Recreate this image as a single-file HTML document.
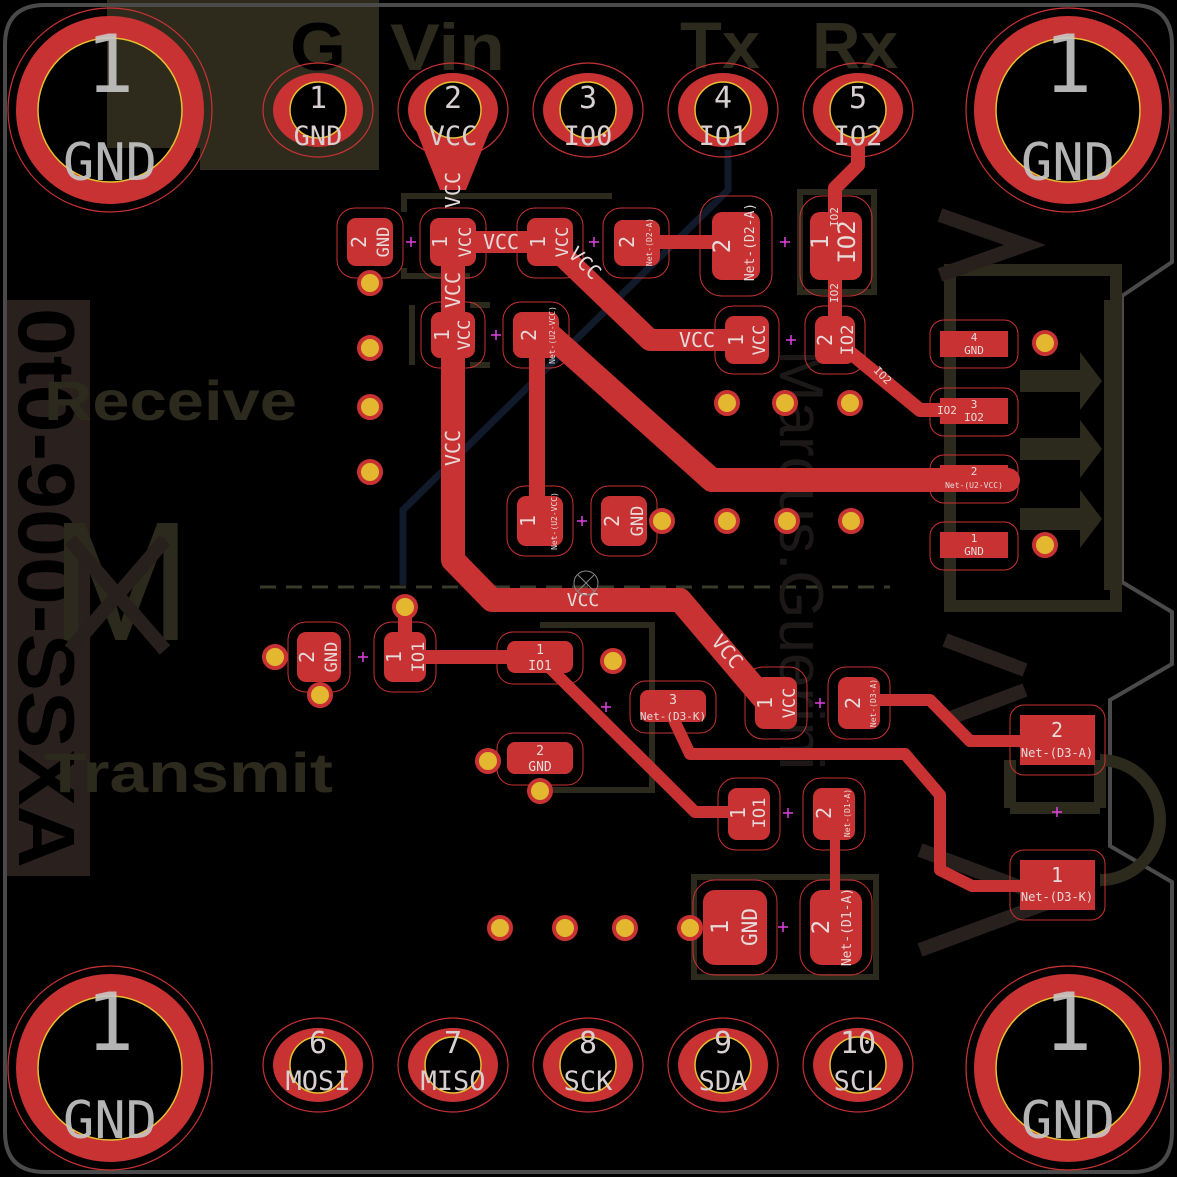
<!DOCTYPE html>
<html><head><meta charset="utf-8"><style>
html,body{margin:0;padding:0;background:#000;}
svg{display:block;font-family:"DejaVu Sans Mono","Liberation Mono",monospace;}
.pl{fill:#e6dada;}
.ls{font-family:"Liberation Sans",sans-serif;}
</style></head><body>
<svg width="1177" height="1177" viewBox="0 0 1177 1177" xmlns="http://www.w3.org/2000/svg">
<rect width="1177" height="1177" fill="#000"/>
<polygon points="107,0 379,0 379,170 200,170 200,148 107,148" fill="#2e2b1d"/>
<rect x="6" y="300" width="84" height="576" fill="#2a211e"/>
<text class="ls" transform="translate(19,588) rotate(90)" text-anchor="middle" font-weight="bold" font-size="80" fill="#000" textLength="560" lengthAdjust="spacingAndGlyphs">0t0-900-SSXA</text>
<path d="M45,5 H1132 Q1172,5 1172,45 V262 L1122,296 V582 L1172,612 V664 L1110,700 V846 L1172,882 V1132 Q1172,1172 1132,1172 H45 Q5,1172 5,1132 V45 Q5,5 45,5 Z" fill="none" stroke="#4a4a4a" stroke-width="4"/>
<g fill="none" stroke="#2c2a1c" stroke-width="12">
<rect x="950" y="270" width="166" height="336"/>
<path d="M1110,300 V590"/>
<path d="M1010,808 H1100 M1010,808 V760 M1100,808 V760 M1100,760 A60,60 0 0 1 1100,880" />
</g>
<g fill="#2c2a1c">
<polygon points="1020,370 1080,370 1080,352 1102,381 1080,410 1080,392 1020,392"/>
<polygon points="1020,438 1080,438 1080,420 1102,449 1080,478 1080,460 1020,460"/>
<polygon points="1020,508 1080,508 1080,490 1102,519 1080,548 1080,530 1020,530"/>
</g>
<g fill="none" stroke="#2c2a1c" stroke-width="6">
<path d="M404,212 V196 H612 M404,268 V276 H470 M412,305 V365 M470,305 H490 M470,365 H490"/>
<rect x="800" y="192" width="74" height="100"/>
<path d="M540,625 H652 V790 H540"/>
<rect x="694" y="877" width="182" height="100"/>
</g>
<path d="M260,587 H890" stroke="#3a3a2a" stroke-width="3" stroke-dasharray="16,10"/>
<g font-weight="bold">
<text class="ls" x="290" y="70" font-size="68" fill="#000" textLength="56" lengthAdjust="spacingAndGlyphs">G</text>
<text class="ls" x="390" y="70" font-size="66" fill="#2c2a1c" textLength="115" lengthAdjust="spacingAndGlyphs">Vin</text>
<text class="ls" x="680" y="68" font-size="66" fill="#2c2a1c" textLength="80" lengthAdjust="spacingAndGlyphs">Tx</text>
<text class="ls" x="812" y="68" font-size="66" fill="#2c2a1c" textLength="86" lengthAdjust="spacingAndGlyphs">Rx</text>
<text class="ls" x="44" y="420" font-size="56" fill="#2c2a1c" textLength="253" lengthAdjust="spacingAndGlyphs">Receive</text>
<text class="ls" x="44" y="792" font-size="56" fill="#2c2a1c" textLength="289" lengthAdjust="spacingAndGlyphs">Transmit</text>
</g>
<text class="ls" x="50" y="640" font-size="170" fill="#2c2a1c">M</text>
<g stroke="#28201c" stroke-width="14" fill="none">
<path d="M70,540 L165,650 M165,540 L70,650"/>
<path d="M940,215 L1025,245 L940,275"/>
<path d="M945,640 L1025,670 M945,720 L1025,690"/>
<path d="M920,850 L1055,900 L920,950"/>
</g>
<text class="ls" transform="translate(780,560) rotate(90)" font-size="62" fill="#1c1818" text-anchor="middle">Marcus.Guerini</text>
<path d="M728,150 V190 L403,510 V585" fill="none" stroke="#101a2a" stroke-width="7"/>
<g id="mh">
<circle cx="110" cy="110" r="102" fill="none" stroke="#c83232" stroke-width="1.2"/>
<circle cx="110" cy="110" r="83" fill="none" stroke="#c83232" stroke-width="22"/>
<circle cx="110" cy="110" r="72" fill="none" stroke="#e6c030" stroke-width="1.5"/>
</g>
<use href="#mh" x="958"/><use href="#mh" y="958"/><use href="#mh" x="958" y="958"/>
<g fill="#c8c8c8" fill-opacity="0.9" text-anchor="middle">
<text x="110" y="92" font-size="80">1</text><text x="110" y="180" font-size="52">GND</text>
<text x="1068" y="92" font-size="80">1</text><text x="1068" y="180" font-size="52">GND</text>
<text x="110" y="1050" font-size="80">1</text><text x="110" y="1138" font-size="52">GND</text>
<text x="1068" y="1050" font-size="80">1</text><text x="1068" y="1138" font-size="52">GND</text>
</g>
<g fill="none" stroke="#c83232" stroke-linejoin="round" stroke-linecap="round">
<path d="M453,240 V560 L492,600 H680 L765,700" stroke-width="24"/>
<path d="M453,242 H548 L650,340 H740" stroke-width="22"/>
<path d="M550,335 L712,480 H1008" stroke-width="24"/>
<path d="M537,335 V520" stroke-width="16"/>
<path d="M858,110 V165 L835,188 V340 L920,410 H960" stroke-width="14"/>
<path d="M637,242 H735" stroke-width="14"/>
<path d="M405,607 V657 H540" stroke-width="14"/>
<path d="M548,666 L695,812 H748" stroke-width="12"/>
<path d="M673,718 L690,754 H905 L940,795 V870 L972,886 H1057" stroke-width="12"/>
<path d="M870,700 H930 L970,741 H1057" stroke-width="12"/>
<path d="M835,813 V925" stroke-width="10"/>
</g>
<polygon points="408,110 498,110 466,190 440,190" fill="#c83232"/>
<g id="hp">
<ellipse cx="318" cy="110" rx="55" ry="47" fill="none" stroke="#c83232" stroke-width="1.2"/>
<ellipse cx="318" cy="110" rx="45" ry="37" fill="#c83232"/>
<circle cx="318" cy="110" r="28" fill="#000" stroke="#e6c030" stroke-width="1.5"/>
</g>
<use href="#hp" x="135"/><use href="#hp" x="270"/><use href="#hp" x="405"/><use href="#hp" x="540"/>
<use href="#hp" y="955"/><use href="#hp" x="135" y="955"/><use href="#hp" x="270" y="955"/><use href="#hp" x="405" y="955"/><use href="#hp" x="540" y="955"/>
<g fill="#d8d0d0" text-anchor="middle">
<g font-size="30">
<text x="318" y="108">1</text><text x="453" y="108">2</text><text x="588" y="108">3</text><text x="723" y="108">4</text><text x="858" y="108">5</text>
<text x="318" y="1053">6</text><text x="453" y="1053">7</text><text x="588" y="1053">8</text><text x="723" y="1053">9</text><text x="858" y="1053">10</text>
</g>
<g font-size="27">
<text x="318" y="145">GND</text><text x="453" y="145">VCC</text><text x="588" y="145">IO0</text><text x="723" y="145">IO1</text><text x="858" y="145">IO2</text>
<text x="318" y="1090">MOSI</text><text x="453" y="1090">MISO</text><text x="588" y="1090">SCK</text><text x="723" y="1090">SDA</text><text x="858" y="1090">SCL</text>
</g>
</g>
<g fill="#c83232">
<g stroke="#c83232" stroke-width="1" fill="none">
<rect x="337" y="208" width="66" height="70" rx="18"/><rect x="420" y="208" width="66" height="70" rx="18"/>
<rect x="517" y="208" width="66" height="70" rx="18"/><rect x="603" y="208" width="66" height="70" rx="18"/>
<rect x="700" y="196" width="72" height="100" rx="22"/><rect x="800" y="196" width="72" height="100" rx="22"/>
<rect x="421" y="302" width="64" height="66" rx="18"/><rect x="503" y="302" width="66" height="66" rx="18"/>
<rect x="715" y="306" width="64" height="68" rx="18"/><rect x="805" y="306" width="60" height="68" rx="18"/>
<rect x="507" y="486" width="66" height="70" rx="18"/><rect x="591" y="486" width="66" height="70" rx="18"/>
<rect x="288" y="622" width="62" height="70" rx="18"/><rect x="374" y="622" width="62" height="70" rx="18"/>
<rect x="745" y="667" width="62" height="72" rx="18"/><rect x="828" y="667" width="62" height="72" rx="18"/>
<rect x="718" y="778" width="62" height="72" rx="18"/><rect x="803" y="778" width="62" height="72" rx="18"/>
<rect x="693" y="880" width="84" height="95" rx="22"/><rect x="800" y="880" width="72" height="95" rx="22"/>
<rect x="497" y="632" width="86" height="52" rx="16"/><rect x="630" y="681" width="86" height="52" rx="16"/>
<rect x="497" y="733" width="86" height="52" rx="16"/>
<rect x="930" y="320" width="88" height="48" rx="14"/><rect x="930" y="388" width="88" height="48" rx="14"/>
<rect x="930" y="455" width="88" height="48" rx="14"/><rect x="930" y="522" width="88" height="48" rx="14"/>
<rect x="1010" y="705" width="95" height="70" rx="14"/><rect x="1010" y="850" width="95" height="70" rx="14"/>
</g>
<rect x="347" y="218" width="46" height="48" rx="9"/><rect x="430" y="218" width="46" height="48" rx="9"/>
<rect x="527" y="218" width="46" height="48" rx="9"/><rect x="614" y="220" width="46" height="46" rx="9"/>
<rect x="712" y="212" width="48" height="68" rx="10"/><rect x="810" y="212" width="52" height="68" rx="10"/>
<rect x="431" y="312" width="44" height="46" rx="9"/><rect x="513" y="312" width="46" height="46" rx="9"/>
<rect x="725" y="316" width="44" height="48" rx="9"/><rect x="815" y="316" width="40" height="48" rx="9"/>
<rect x="517" y="496" width="46" height="50" rx="9"/><rect x="601" y="496" width="46" height="50" rx="9"/>
<rect x="297" y="632" width="44" height="50" rx="9"/><rect x="384" y="632" width="42" height="50" rx="9"/>
<rect x="755" y="677" width="42" height="52" rx="9"/><rect x="838" y="677" width="42" height="52" rx="9"/>
<rect x="728" y="788" width="42" height="52" rx="9"/><rect x="813" y="788" width="42" height="52" rx="9"/>
<rect x="703" y="890" width="64" height="75" rx="12"/><rect x="810" y="890" width="52" height="75" rx="12"/>
<rect x="507" y="641" width="66" height="32" rx="8"/><rect x="640" y="690" width="66" height="32" rx="8"/>
<rect x="507" y="742" width="66" height="32" rx="8"/>
<rect x="940" y="331" width="68" height="26"/><rect x="940" y="398" width="68" height="26"/>
<rect x="940" y="465" width="68" height="26"/><rect x="940" y="532" width="68" height="26"/>
<rect x="1020" y="715" width="75" height="50"/><rect x="1020" y="860" width="75" height="50"/>
</g>
<g class="pl" text-anchor="middle">
<g font-size="20">
<text transform="translate(366,242) rotate(-90)">2</text><text transform="translate(447,242) rotate(-90)">1</text>
<text transform="translate(545,242) rotate(-90)">1</text><text transform="translate(634,242) rotate(-90)">2</text>
<text transform="translate(730,246) rotate(-90)" font-size="24">2</text><text transform="translate(828,242) rotate(-90)" font-size="24">1</text>
<text transform="translate(449,335) rotate(-90)">1</text><text transform="translate(536,335) rotate(-90)">2</text>
<text transform="translate(743,340) rotate(-90)">1</text><text transform="translate(832,340) rotate(-90)">2</text>
<text transform="translate(535,521) rotate(-90)">1</text><text transform="translate(619,521) rotate(-90)">2</text>
<text transform="translate(314,657) rotate(-90)">2</text><text transform="translate(401,657) rotate(-90)">1</text>
<text transform="translate(772,703) rotate(-90)">1</text><text transform="translate(860,703) rotate(-90)">2</text>
<text transform="translate(745,813) rotate(-90)">1</text><text transform="translate(831,813) rotate(-90)">2</text>
<text transform="translate(728,927) rotate(-90)" font-size="24">1</text><text transform="translate(829,927) rotate(-90)" font-size="24">2</text>
</g>
<g font-size="17">
<text transform="translate(389,242) rotate(-90)">GND</text><text transform="translate(471,242) rotate(-90)">VCC</text>
<text transform="translate(568,242) rotate(-90)">VCC</text>
<text transform="translate(470,335) rotate(-90)">VCC</text><text transform="translate(765,340) rotate(-90)">VCC</text>
<text transform="translate(853,340) rotate(-90)">IO2</text>
<text transform="translate(643,521) rotate(-90)">GND</text>
<text transform="translate(337,657) rotate(-90)">GND</text><text transform="translate(424,657) rotate(-90)">IO1</text>
<text transform="translate(795,703) rotate(-90)">VCC</text><text transform="translate(765,813) rotate(-90)">IO1</text>
<text transform="translate(757,927) rotate(-90)" font-size="21">GND</text>
<text transform="translate(855,242) rotate(-90)" font-size="24">IO2</text>
</g>
<g font-size="8">
<text transform="translate(652,242) rotate(-90)">Net-(D2-A)</text>
<text transform="translate(555,335) rotate(-90)">Net-(U2-VCC)</text>
<text transform="translate(557,521) rotate(-90)">Net-(U2-VCC)</text>
<text transform="translate(876,703) rotate(-90)">Net-(D3-A)</text>
<text transform="translate(850,813) rotate(-90)">Net-(D1-A)</text>
</g>
<text transform="translate(754,242) rotate(-90)" font-size="13">Net-(D2-A)</text>
<text transform="translate(851,927) rotate(-90)" font-size="13">Net-(D1-A)</text>
<g font-size="11"><text transform="translate(838,217) rotate(-90)">IO2</text><text transform="translate(838,293) rotate(-90)">IO2</text>
<text transform="translate(880,378) rotate(45)">IO2</text></g>
<g font-size="20">
<text transform="translate(460,190) rotate(-90)">VCC</text><text transform="translate(460,290) rotate(-90)">VCC</text>
<text transform="translate(460,448) rotate(-90)">VCC</text>
<text x="501" y="249">VCC</text><text x="697" y="347">VCC</text>
<text x="583" y="606" font-size="18">VCC</text>
<text transform="translate(580,268) rotate(45)">VCC</text><text transform="translate(722,656) rotate(50)">VCC</text>
</g>
<g font-size="13">
<text x="540" y="654">1</text><text x="540" y="670">IO1</text>
<text x="673" y="704">3</text><text x="673" y="720" font-size="11">Net-(D3-K)</text>
<text x="540" y="755">2</text><text x="540" y="771">GND</text>
<text x="974" y="341" font-size="11">4</text><text x="974" y="354" font-size="11">GND</text>
<text x="974" y="408" font-size="11">3</text><text x="974" y="421" font-size="11">IO2</text>
<text x="947" y="414" font-size="11">IO2</text>
<text x="974" y="475" font-size="11">2</text><text x="974" y="488" font-size="8">Net-(U2-VCC)</text>
<text x="974" y="542" font-size="11">1</text><text x="974" y="555" font-size="11">GND</text>
<text x="1057" y="737" font-size="20">2</text><text x="1057" y="757" font-size="12">Net-(D3-A)</text>
<text x="1057" y="882" font-size="20">1</text><text x="1057" y="901" font-size="12">Net-(D3-K)</text>
</g>
</g>
<g fill="#e3b830" stroke="#c83232" stroke-width="4">
<circle cx="370" cy="283" r="11"/><circle cx="370" cy="348" r="11"/><circle cx="370" cy="407" r="11"/><circle cx="370" cy="472" r="11"/>
<circle cx="727" cy="403" r="11"/><circle cx="785" cy="403" r="11"/><circle cx="850" cy="403" r="11"/>
<circle cx="662" cy="521" r="11"/><circle cx="727" cy="521" r="11"/><circle cx="787" cy="521" r="11"/><circle cx="851" cy="521" r="11"/>
<circle cx="1045" cy="343" r="11"/><circle cx="1045" cy="545" r="11"/>
<circle cx="405" cy="607" r="11"/><circle cx="275" cy="657" r="11"/><circle cx="320" cy="695" r="11"/><circle cx="613" cy="661" r="11"/>
<circle cx="488" cy="761" r="11"/><circle cx="540" cy="791" r="11"/>
<circle cx="500" cy="928" r="11"/><circle cx="565" cy="928" r="11"/><circle cx="625" cy="928" r="11"/><circle cx="690" cy="928" r="11"/>
</g>
<g stroke="#e040e0" stroke-width="1.5">
<path d="M406,242 h10 M411,237 v10 M589,242 h10 M594,237 v10 M780,242 h10 M785,237 v10 M491,335 h10 M496,330 v10 M786,340 h10 M791,335 v10 M577,521 h10 M582,516 v10 M358,657 h10 M363,652 v10 M601,707 h10 M606,702 v10 M815,703 h10 M820,698 v10 M783,813 h10 M788,808 v10 M778,927 h10 M783,922 v10 M1052,812 h10 M1057,807 v10"/>
</g>
<g stroke="#888" stroke-width="1" fill="none"><circle cx="586" cy="583" r="12"/><path d="M578,575 l16,16 M594,575 l-16,16"/></g>
</svg>
</body></html>
